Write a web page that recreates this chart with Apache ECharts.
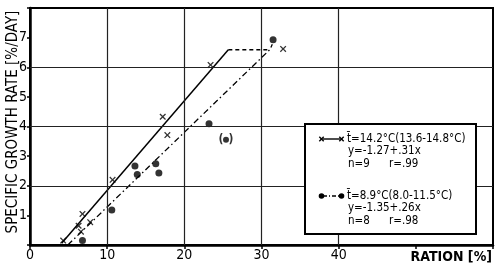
<!DOCTYPE html>
<html>
<head>
<meta charset="utf-8">
<script src="https://cdn.jsdelivr.net/npm/echarts@6/dist/echarts.min.js"></script>
<style>html,body{margin:0;padding:0;background:#fff}#c{width:500px;height:267px}</style>
</head>
<body>
<div id="c"></div>
<script>
// ---- data ----
const xTickLabels = [0, 10, 20, 30, 40];
const yTickLabels = [1, 2, 3, 4, 5, 6, 7];
const xGridLines = [10, 20, 30, 40];
const yGridLines = [2, 4, 6];
// x = ration [%], y = specific growth rate [%/day]
const crossX = [4.3, 6.3, 6.8, 6.6, 7.8, 10.7, 17.2, 17.8, 23.4, 32.8];
const crossY = [0.15, 0.65, 1.05, 0.45, 0.77, 2.2, 4.33, 3.71, 6.08, 6.62];
const dotX = [6.8, 10.6, 13.6, 13.9, 16.3, 16.7, 23.2, 31.5];
const dotY = [0.15, 1.18, 2.67, 2.38, 2.74, 2.43, 4.09, 6.93];
const outlierX = [25.4];
const outlierY = [3.55];
const solidLineX = [4.1, 25.7];
const solidLineY = [0.06, 6.59];
const capLineX = [25.7, 31.1];
const capLineY = [6.59, 6.59];
const dashDotX = [4.9, 31.1, 31.4];
const dashDotY = [0, 6.6, 6.78];
const legendText1 = ['t\u0304=14.2°C(13.6-14.8°C)', 'y=-1.27+.31x', 'n=9', 'r=.99'];
const legendText2 = ['t\u0304=8.9°C(8.0-11.5°C)', 'y=-1.35+.26x', 'n=8', 'r=.98'];

const zip = (a, b) => a.map((v, i) => [v, b[i]]);
const FONT = "'Liberation Sans Narrow', 'DejaVu Sans Condensed', sans-serif";
const crossPath = 'path://M0,1.4L1.4,0L5,3.6L8.6,0L10,1.4L6.4,5L10,8.6L8.6,10L5,6.4L1.4,10L0,8.6L3.6,5Z';

const chart = echarts.init(document.getElementById('c'), null, {renderer: 'canvas'});

function legendGroup(x, y, lines, isCross) {
  const els = [];
  const lh = 12.3;
  const ts = (t) => ({text: t, font: '11.5px ' + FONT, fill: '#000', textVerticalAlign: 'middle', verticalAlign: 'middle'});
  els.push({type: 'text', z: 110, x: x, y: y, style: ts(lines[0])});
  els.push({type: 'text', z: 110, x: x + 1, y: y + lh, style: ts(lines[1])});
  els.push({type: 'text', z: 110, x: x + 1, y: y + 2 * lh, style: ts(lines[2])});
  els.push({type: 'text', z: 110, x: x + 42, y: y + 2 * lh, style: ts(lines[3])});
  const sy = y;
  if (isCross) {
    els.push({type: 'line', z: 110, shape: {x1: 323, y1: sy, x2: 340, y2: sy}, style: {stroke: '#000', lineWidth: 1.4}});
    [321.5, 341.5].forEach(cx => {
      els.push({type: 'line', z: 110, shape: {x1: cx - 2.2, y1: sy - 2.2, x2: cx + 2.2, y2: sy + 2.2}, style: {stroke: '#000', lineWidth: 1.4}});
      els.push({type: 'line', z: 110, shape: {x1: cx - 2.2, y1: sy + 2.2, x2: cx + 2.2, y2: sy - 2.2}, style: {stroke: '#000', lineWidth: 1.4}});
    });
  } else {
    els.push({type: 'line', z: 110, shape: {x1: 323, y1: sy, x2: 340, y2: sy}, style: {stroke: '#000', lineWidth: 1.3, lineDash: [4, 2, 1, 2]}});
    [321.5, 341.5].forEach(cx => {
      els.push({type: 'circle', z: 110, shape: {cx: cx, cy: sy, r: 2.8}, style: {fill: '#000'}});
    });
  }
  return els;
}

const option = {
  animation: false,
  backgroundColor: '#fff',
  grid: {left: 30, right: 7, top: 8, bottom: 22, outerBoundsMode: 'none', containLabel: false, show: true, borderColor: '#000', borderWidth: 2, backgroundColor: 'transparent'},
  xAxis: {
    type: 'value', min: 0, max: 60, interval: 10,
    axisLine: {lineStyle: {color: '#000', width: 2.5}},
    axisTick: {show: true, length: 4, lineStyle: {color: '#000', width: 1.5}},
    splitLine: {show: false},
    axisLabel: {
      margin: 3, color: '#000', fontFamily: FONT, fontSize: 14,
      formatter: v => (xTickLabels.indexOf(v) >= 0 ? String(v) : '')
    },
    name: 'RATION [%]', nameLocation: 'end', nameGap: -1, nameMoveOverlap: false,
    nameTextStyle: {fontFamily: FONT, fontSize: 14, fontWeight: 'bold', color: '#000', align: 'right', verticalAlign: 'top', padding: [5, 0, 0, 0]}
  },
  yAxis: {
    type: 'value', min: 0, max: 8, interval: 1,
    axisLine: {lineStyle: {color: '#000', width: 2.5}},
    axisTick: {show: true, length: 3, lineStyle: {color: '#000', width: 1.5}},
    splitLine: {show: false},
    axisLabel: {
      margin: 3, color: '#000', fontFamily: FONT, fontSize: 14,
      formatter: v => (yTickLabels.indexOf(v) >= 0 ? String(v) : '')
    },
    name: 'SPECIFIC GROWTH RATE [%/DAY]', nameLocation: 'middle', nameGap: 9.5, nameRotate: 90, nameMoveOverlap: false,
    nameTextStyle: {fontFamily: FONT, fontSize: 15, color: '#000', padding: [0, 0, 0, 9]}
  },
  series: [
    {
      type: 'line', data: [], silent: true,
      markLine: {
        silent: true, symbol: 'none', label: {show: false},
        lineStyle: {color: '#222', width: 1.2, type: 'solid'},
        data: xGridLines.map(v => ({xAxis: v})).concat(yGridLines.map(v => ({yAxis: v})))
      }
    },
    {type: 'line', data: zip(solidLineX, solidLineY), symbol: 'none', lineStyle: {color: '#000', width: 1.5}},
    {type: 'line', data: zip(capLineX, capLineY), symbol: 'none', lineStyle: {color: '#000', width: 1.3, type: [4, 3]}},
    {type: 'line', data: zip(dashDotX, dashDotY), symbol: 'none', lineStyle: {color: '#000', width: 1.3, type: [6, 3, 1.5, 3]}},
    {type: 'scatter', data: zip(crossX, crossY), symbol: crossPath, symbolSize: 6.5, itemStyle: {color: '#000'}},
    {type: 'scatter', data: zip(dotX, dotY), symbol: 'circle', symbolSize: 7, itemStyle: {color: '#000'}},
    {
      type: 'scatter', data: zip(outlierX, outlierY), symbol: 'circle', symbolSize: 6, itemStyle: {color: '#000'},
      label: {
        show: true, position: 'inside', formatter: '{a|(}{g| }{a|)}',
        rich: {a: {fontFamily: FONT, fontSize: 12, fontWeight: 'bold', color: '#000'}, g: {width: 5}}
      }
    }
  ],
  graphic: [
    {type: 'rect', shape: {x: 305, y: 124, width: 171, height: 110}, style: {fill: '#fff', stroke: '#000', lineWidth: 2}, z: 100},
    {type: 'group', z: 101, children: legendGroup(347, 139, legendText1, true).concat(legendGroup(347, 196, legendText2, false))}
  ]
};
chart.setOption(option);
</script>
</body>
</html>
